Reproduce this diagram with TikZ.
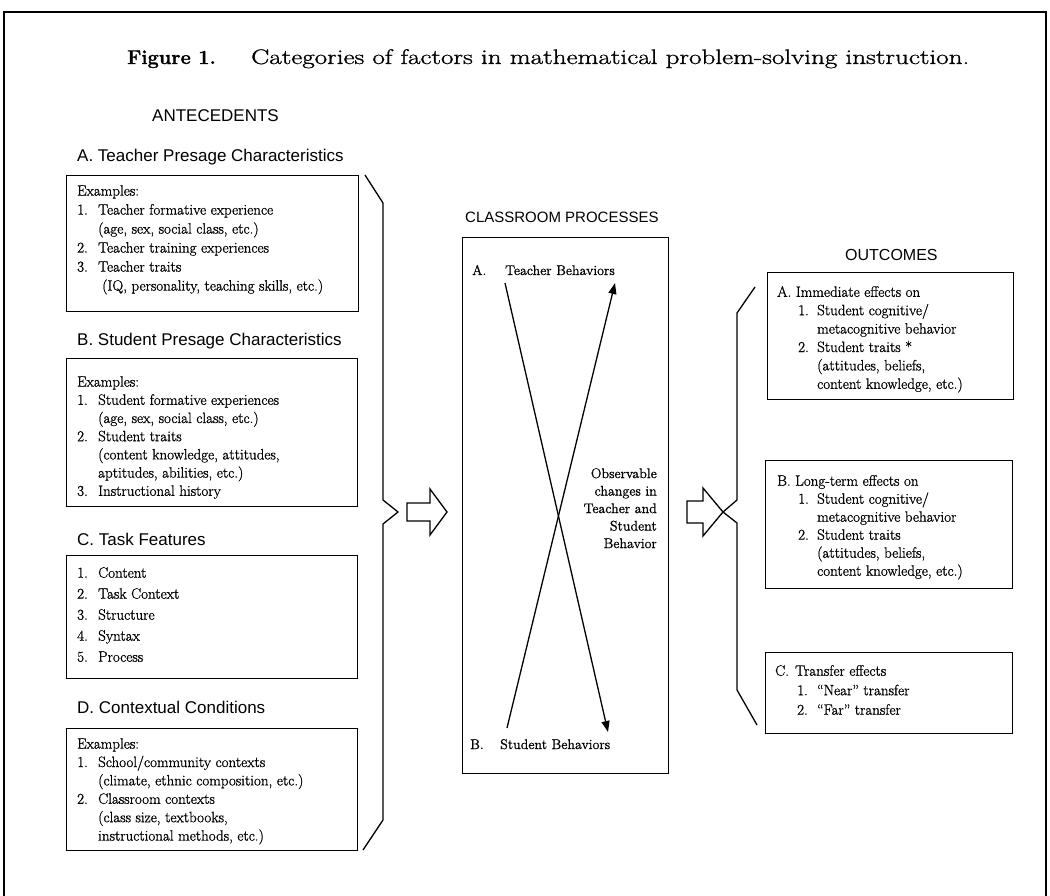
\documentclass[tikz,border=0pt]{standalone}
\usepackage{fontspec}
\setmainfont{Latin Modern Roman}[FakeBold=1.0]
\newfontfamily\hdfont{Liberation Sans}
\usetikzlibrary{arrows.meta}
\newcommand\myitem[1]{\makebox[21pt][l]{#1}}
\newcommand\myind{\hspace*{21pt}}
\newcommand\ritem[1]{\hspace*{21pt}\makebox[19pt][l]{#1}}
\newcommand\rind{\hspace*{40pt}}
\begin{document}
\begin{tikzpicture}[x=1pt,y=-1pt,
  box/.style={draw, line width=1.2pt, anchor=north west, inner sep=0pt},
  hdr/.style={font=\hdfont\fontsize{17}{19}\selectfont, anchor=base west, inner sep=0pt},
  body/.style={anchor=north west, inner sep=0pt, align=left},
  bracepath/.style={line width=1.3pt, line join=miter},
  hollow/.style={draw, line width=1.3pt, fill=white, line join=miter},
  xarrow/.style={line width=1.3pt, -{Triangle[length=11pt,width=8pt]}}
]
\useasboundingbox (0,0) rectangle (1050,896);
% frame
\draw[line width=1.5pt] (4,896) -- (4,12) -- (1046,12) -- (1046,896);
% title
\node[anchor=base west, inner sep=0pt, font=\fontsize{20}{24}\selectfont] (fig) at (127,64)
  {\textbf{Figure 1.}};
\node[anchor=base west, inner sep=0pt, font=\fontsize{21}{25}\selectfont] (title) at (251,64)
  {\scalebox{1.29}[1]{Categories of factors in mathematical problem-solving instruction.}};
% column headers
\node[hdr] (ant) at (152,122) {ANTECEDENTS};
\node[hdr, font=\hdfont\fontsize{15}{18}\selectfont] (cp) at (465,223) {CLASSROOM PROCESSES};
\node[hdr, font=\hdfont\fontsize{16}{18}\selectfont] (out) at (845,261) {OUTCOMES};
% left section headers
\node[hdr] (hA) at (77,162) {A. Teacher Presage Characteristics};
\node[hdr] (hB) at (77,345) {B. Student Presage Characteristics};
\node[hdr] (hC) at (77,545) {C. Task Features};
\node[hdr] (hD) at (77,713) {D. Contextual Conditions};
% left boxes
\node[box, minimum width=292pt, minimum height=136pt] (boxA) at (66,175) {};
\node[box, minimum width=291pt, minimum height=148pt] (boxB) at (66,358) {};
\node[box, minimum width=291pt, minimum height=123pt] (boxC) at (66,555) {};
\node[box, minimum width=291pt, minimum height=122pt] (boxD) at (66,728) {};
\node[body, font=\fontsize{15}{19}\selectfont] (tA) at (77,185) {Examples:\\
\myitem{1.}Teacher formative experience\\
\myind(age, sex, social class, etc.)\\
\myitem{2.}Teacher training experiences\\
\myitem{3.}Teacher traits\\
\myind\hspace*{4pt}(IQ, personality, teaching skills, etc.)};
\node[body, font=\fontsize{15}{18.2}\selectfont] (tB) at (77,376) {Examples:\\
\myitem{1.}Student formative experiences\\
\myind(age, sex, social class, etc.)\\
\myitem{2.}Student traits\\
\myind(content knowledge, attitudes,\\
\myind aptitudes, abilities, etc.)\\
\myitem{3.}Instructional history};
\node[body, font=\fontsize{15}{21}\selectfont] (tC) at (77,567) {\myitem{1.}Content\\
\myitem{2.}Task Context\\
\myitem{3.}Structure\\
\myitem{4.}Syntax\\
\myitem{5.}Process};
\node[body, font=\fontsize{15}{18.4}\selectfont] (tD) at (77,738) {Examples:\\
\myitem{1.}School/community contexts\\
\myind(climate, ethnic composition, etc.)\\
\myitem{2.}Classroom contexts\\
\myind(class size, textbooks,\\
\myind instructional methods, etc.)};
% left brace
\draw[bracepath] (365,175) -- (383,203) -- (383,500) -- (398,512) -- (383,524) -- (383,820) -- (363,850);
% left hollow arrow
\draw[hollow] (407,503) -- (430,503) -- (430,489) -- (447,512) -- (430,535) -- (430,521) -- (407,521) -- cycle;
% middle box
\node[box, minimum width=206pt, minimum height=536pt] (mid) at (462,237) {};
\node[anchor=base west, inner sep=0pt, font=\fontsize{14}{17}\selectfont] (ma) at (472,275) {A.};
\node[anchor=base west, inner sep=0pt, font=\fontsize{14}{17}\selectfont] (tb) at (505,275) {Teacher Behaviors};
\node[anchor=base west, inner sep=0pt, font=\fontsize{14}{17}\selectfont] (mb) at (470,749) {B.};
\node[anchor=base west, inner sep=0pt, font=\fontsize{14}{17}\selectfont] (sb) at (500,749) {Student Behaviors};
\node[anchor=north east, inner sep=0pt, align=right, font=\fontsize{14}{17.5}\selectfont] (obs) at (657,468)
  {Observable\\changes in\\Teacher and\\Student\\Behavior};
\coordinate (t1) at (505,283);
\coordinate (s1) at (608,732);
\coordinate (s2) at (507,728);
\coordinate (t2) at (615,283);
\draw[xarrow] (t1) -- (s1);
\draw[xarrow] (s2) -- (t2);
% right hollow arrow
\draw[hollow] (687,501) -- (703,501) -- (703,488) -- (723,512) -- (703,536) -- (703,523) -- (687,523) -- cycle;
% right brace
\draw[bracepath] (755,287) -- (737,313) -- (737,500) -- (723,512) -- (737,523) -- (737,690) -- (757,725);
% right boxes
\node[box, minimum width=246pt, minimum height=127pt] (rA) at (767,272) {};
\node[box, minimum width=247pt, minimum height=128pt] (rB) at (765,460) {};
\node[box, minimum width=247pt, minimum height=81pt] (rC) at (765,652) {};
\node[body, font=\fontsize{15}{18.4}\selectfont] (trA) at (777,286) {A. Immediate effects on\\
\ritem{1.}Student cognitive/\\
\rind metacognitive behavior\\
\ritem{2.}Student traits *\\
\rind(attitudes, beliefs,\\
\rind content knowledge, etc.)};
\node[body, font=\fontsize{15}{18}\selectfont] (trB) at (777,475) {\makebox[18pt][l]{B.}Long-term effects on\\
\ritem{1.}Student cognitive/\\
\rind metacognitive behavior\\
\ritem{2.}Student traits\\
\rind(attitudes, beliefs,\\
\rind content knowledge, etc.)};
\node[body, font=\fontsize{15}{19.5}\selectfont] (trC) at (775,665) {\makebox[20pt][l]{C.}Transfer effects\\
\hspace*{22pt}\makebox[20pt][l]{1.}``Near'' transfer\\
\hspace*{22pt}\makebox[20pt][l]{2.}``Far'' transfer};
\end{tikzpicture}
\end{document}
